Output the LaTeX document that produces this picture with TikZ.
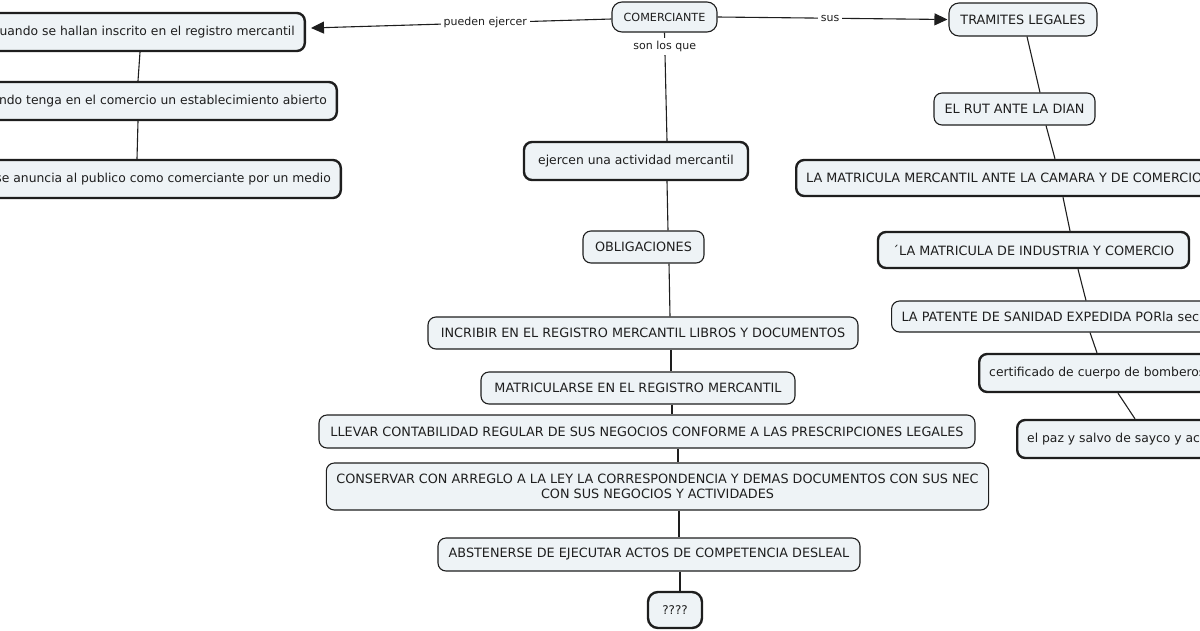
\documentclass[tikz,border=0pt]{standalone}
\usepackage{fontspec}
\setmainfont{DejaVu Sans}
\usetikzlibrary{arrows.meta}
\definecolor{boxfill}{RGB}{238,243,246}
\definecolor{ink}{RGB}{30,30,30}
\begin{document}
\begin{tikzpicture}[x=1pt,y=-1pt,
  concept/.style={draw=ink, fill=boxfill, rounded corners=8pt, line width=1.1pt,
    font=\fontsize{12.8}{15}\selectfont, inner xsep=10pt, inner ysep=0pt, align=center, text=ink},
  boldc/.style={concept, line width=2.4pt},
  lower/.style={font=\fontsize{12.35}{15}\selectfont},
  link/.style={line width=1.1pt, draw=ink},
  lab/.style={fill=white, font=\fontsize{11}{13}\selectfont, inner sep=3pt, text=ink},
  tip/.style={-{Triangle[length=13pt,width=12pt]}}]
\useasboundingbox (0,0) rectangle (1200,630);
\clip (0,0) rectangle (1200,630);

% centre
\node[concept, rounded corners=10pt, minimum width=105pt, minimum height=30pt, font=\fontsize{11.2}{13}\selectfont] (com) at (664.5,17) {COMERCIANTE};
\node[concept, rounded corners=10pt, minimum width=148pt, minimum height=33pt] (tram) at (1023,19.5) {TRAMITES LEGALES};

% left branch
\node[boldc, lower, minimum height=38pt, anchor=east] (c1) at (306,32) {cuando se hallan inscrito en el registro mercantil};
\node[boldc, lower, minimum height=38pt, anchor=east] (c2) at (338,101) {cuando tenga en el comercio un establecimiento abierto};
\node[boldc, lower, minimum height=38pt, anchor=east] (c3) at (342,179) {se anuncia al publico como comerciante por un medio};

% middle branch
\node[boldc, lower, minimum width=224pt, minimum height=38pt] (ejer) at (636,161) {ejercen una actividad mercantil};
\node[concept, minimum width=121pt, minimum height=32pt] (oblig) at (643.5,247) {OBLIGACIONES};
\node[concept, minimum width=430pt, minimum height=32pt] (incr) at (643,333) {INCRIBIR EN EL REGISTRO MERCANTIL LIBROS Y DOCUMENTOS};
\node[concept, minimum width=314pt, minimum height=32pt] (matr) at (638,388) {MATRICULARSE EN EL REGISTRO MERCANTIL};
\node[concept, minimum width=656pt, minimum height=33pt] (llev) at (647,431.5) {LLEVAR CONTABILIDAD REGULAR DE SUS NEGOCIOS CONFORME A LAS PRESCRIPCIONES LEGALES};
\node[concept, minimum width=661pt, minimum height=47pt] (cons) at (657.5,486.5) {CONSERVAR CON ARREGLO A LA LEY LA CORRESPONDENCIA Y DEMAS DOCUMENTOS CON SUS NEC\\CON SUS NEGOCIOS Y ACTIVIDADES};
\node[concept, minimum width=422pt, minimum height=33pt] (abst) at (649,554.5) {ABSTENERSE DE EJECUTAR ACTOS DE COMPETENCIA DESLEAL};
\node[boldc, rounded corners=10pt, minimum width=54pt, minimum height=36pt, inner xsep=4pt, font=\fontsize{12}{14}\selectfont] (q) at (675,610) {????};

% right branch
\node[concept, minimum width=161pt, minimum height=32pt] (rut) at (1014.5,109) {EL RUT ANTE LA DIAN};
\node[boldc, minimum height=36pt, anchor=west] (mm) at (795,178) {LA MATRICULA MERCANTIL ANTE LA CAMARA Y DE COMERCIO};
\node[boldc, minimum width=311pt, minimum height=36pt] (mi) at (1033.5,250) {´LA MATRICULA DE INDUSTRIA Y COMERCIO};
\node[concept, minimum height=31pt, anchor=west] (pat) at (891,316.5) {LA PATENTE DE SANIDAD EXPEDIDA PORla secretaria de salud};
\node[boldc, lower, minimum height=38pt, anchor=west] (cert) at (978,373) {certificado de cuerpo de bomberos};
\node[boldc, lower, minimum height=38pt, anchor=west] (paz) at (1016,439) {el paz y salvo de sayco y acinpro};

% connectors
\draw[link, tip] ([yshift=-2pt]com.west) -- node[lab, pos=0.42] {pueden ejercer} ([xshift=5pt,yshift=4pt]c1.east);
\draw[link, tip] (com.east) -- node[lab, pos=0.49] {sus} ([xshift=-1pt]tram.west);
\draw[link] (com.south) -- node[lab, pos=0.127] {son los que} ([xshift=31pt]ejer.north);

\draw[link] (c1.south -| 140,0) -- (c2.north -| 138,0);
\draw[link] (c2.south -| 138,0) -- (c3.north -| 137,0);

\draw[link] ([xshift=31pt]ejer.south) -- ([xshift=24.5pt]oblig.north);
\draw[link] ([xshift=25.5pt]oblig.south) -- ([xshift=27pt]incr.north);
\draw[link] ([xshift=28pt]incr.south) -- ([xshift=33pt]matr.north);
\draw[link] ([xshift=34pt]matr.south) -- ([xshift=25pt]llev.north);
\draw[link] ([xshift=31pt]llev.south) -- ([xshift=20.5pt]cons.north);
\draw[link] ([xshift=21.5pt]cons.south) -- ([xshift=30pt]abst.north);
\draw[link] ([xshift=31pt]abst.south) -- ([xshift=5pt]q.north);

\draw[link] ([xshift=4pt]tram.south) -- ([xshift=25.5pt]rut.north);
\draw[link] ([xshift=31.5pt]rut.south) -- (mm.north -| 1055,0);
\draw[link] (mm.south -| 1063,0) -- ([xshift=36.5pt]mi.north);
\draw[link] ([xshift=44.5pt]mi.south) -- (pat.north -| 1086,0);
\draw[link] (pat.south -| 1090,0) -- (cert.north -| 1097,0);
\draw[link] (cert.south -| 1118,0) -- (paz.north -| 1135,0);
\end{tikzpicture}
\end{document}
